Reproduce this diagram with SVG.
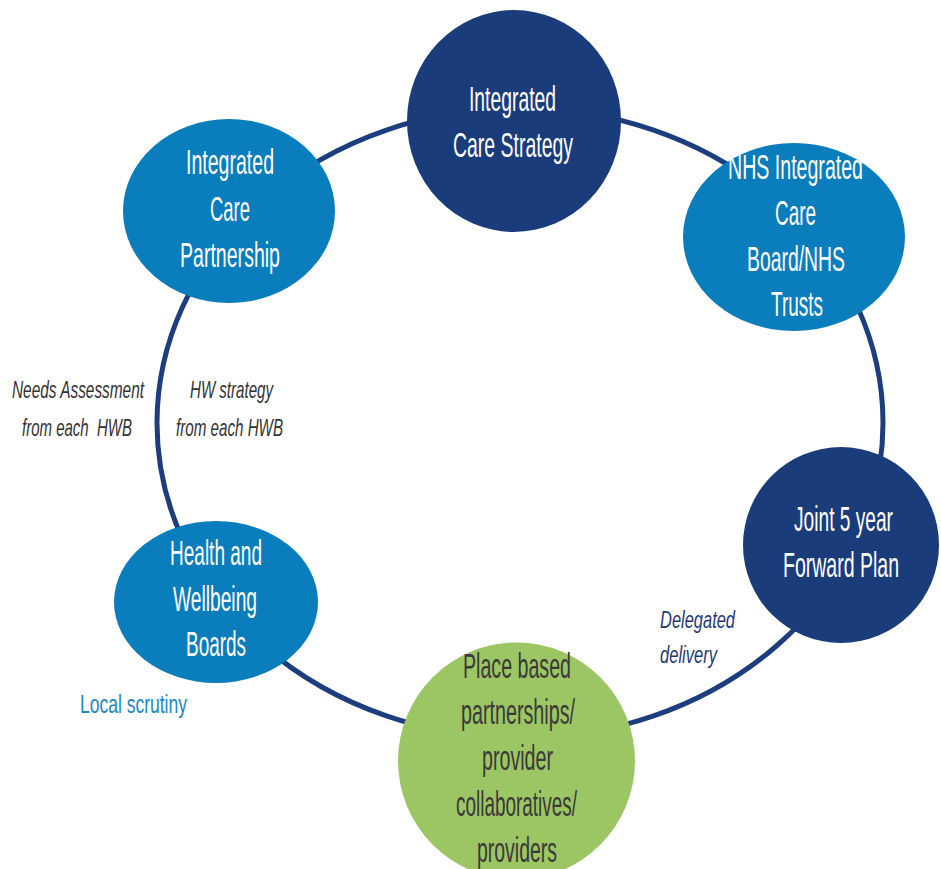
<svg xmlns="http://www.w3.org/2000/svg" width="941" height="869" viewBox="0 0 941 869">
<style>
.navy{fill:#1a3c7b}
.blue{fill:#0a7dbd}
.green{fill:#9cc663}
.nt{font-family:"Liberation Sans",Arial,sans-serif;font-size:35px;fill:#ffffff}
.gt{font-family:"Liberation Sans",Arial,sans-serif;font-size:35px;fill:#3a3a3a}
.lab{font-family:"Liberation Sans",Arial,sans-serif;font-size:24px;font-style:italic;fill:#333333}
.ring{fill:none;stroke:#1c3d7e;stroke-width:5}
</style>
<rect width="941" height="869" fill="#ffffff"/>
<g id="connectors">
<ellipse class="ring" cx="520" cy="423" rx="363" ry="315"/>
</g>
<g id="integrated-care-strategy">
<ellipse class="navy" cx="514" cy="121" rx="107" ry="111"/>
<text class="nt" x="469" y="111" textLength="87" lengthAdjust="spacingAndGlyphs">Integrated</text>
<text class="nt" x="453" y="157" textLength="120" lengthAdjust="spacingAndGlyphs">Care Strategy</text>
</g>
<g id="integrated-care-partnership">
<ellipse class="blue" cx="229" cy="211" rx="106" ry="92"/>
<text class="nt" x="186" y="174" textLength="88" lengthAdjust="spacingAndGlyphs">Integrated</text>
<text class="nt" x="210" y="221" textLength="40" lengthAdjust="spacingAndGlyphs">Care</text>
<text class="nt" x="180" y="267" textLength="100" lengthAdjust="spacingAndGlyphs">Partnership</text>
</g>
<g id="nhs-icb">
<ellipse class="blue" cx="794" cy="237" rx="111" ry="94"/>
<text class="nt" x="728" y="179" textLength="135" lengthAdjust="spacingAndGlyphs">NHS Integrated</text>
<text class="nt" x="775" y="225" textLength="41" lengthAdjust="spacingAndGlyphs">Care</text>
<text class="nt" x="747" y="271" textLength="98" lengthAdjust="spacingAndGlyphs">Board/NHS</text>
<text class="nt" x="771" y="316" textLength="52" lengthAdjust="spacingAndGlyphs">Trusts</text>
</g>
<g id="joint-plan">
<ellipse class="navy" cx="841" cy="545" rx="98" ry="98"/>
<text class="nt" x="794" y="531" textLength="99" lengthAdjust="spacingAndGlyphs">Joint 5 year</text>
<text class="nt" x="783" y="577" textLength="116" lengthAdjust="spacingAndGlyphs">Forward Plan</text>
</g>
<g id="health-wellbeing-boards">
<ellipse class="blue" cx="216" cy="602" rx="102" ry="81"/>
<text class="nt" x="170" y="565" textLength="92" lengthAdjust="spacingAndGlyphs">Health and</text>
<text class="nt" x="173" y="611" textLength="84" lengthAdjust="spacingAndGlyphs">Wellbeing</text>
<text class="nt" x="186" y="656" textLength="60" lengthAdjust="spacingAndGlyphs">Boards</text>
</g>
<g id="place-based">
<ellipse class="green" cx="516.5" cy="761" rx="118.5" ry="118.5"/>
<text class="gt" x="463" y="678" textLength="108" lengthAdjust="spacingAndGlyphs">Place based</text>
<text class="gt" x="461" y="724" textLength="114" lengthAdjust="spacingAndGlyphs">partnerships/</text>
<text class="gt" x="482" y="770" textLength="71" lengthAdjust="spacingAndGlyphs">provider</text>
<text class="gt" x="456" y="816" textLength="121" lengthAdjust="spacingAndGlyphs">collaboratives/</text>
<text class="gt" x="477" y="862" textLength="80" lengthAdjust="spacingAndGlyphs">providers</text>
</g>
<g id="labels">
<text class="lab" x="12" y="398" textLength="132" lengthAdjust="spacingAndGlyphs">Needs Assessment</text>
<text class="lab" x="22" y="436" textLength="110" lengthAdjust="spacingAndGlyphs" xml:space="preserve">from each  HWB</text>
<text class="lab" x="190" y="398" textLength="83" lengthAdjust="spacingAndGlyphs">HW strategy</text>
<text class="lab" x="176" y="436" textLength="107" lengthAdjust="spacingAndGlyphs">from each HWB</text>
<text x="80" y="713" textLength="107" lengthAdjust="spacingAndGlyphs" style="font-family:'Liberation Sans',Arial,sans-serif;font-size:25px;fill:#1a88c4">Local scrutiny</text>
<text class="lab" x="660" y="628" textLength="75" lengthAdjust="spacingAndGlyphs" style="fill:#1f3a78">Delegated</text>
<text class="lab" x="660" y="663" textLength="57" lengthAdjust="spacingAndGlyphs" style="fill:#1f3a78">delivery</text>
</g>
</svg>
